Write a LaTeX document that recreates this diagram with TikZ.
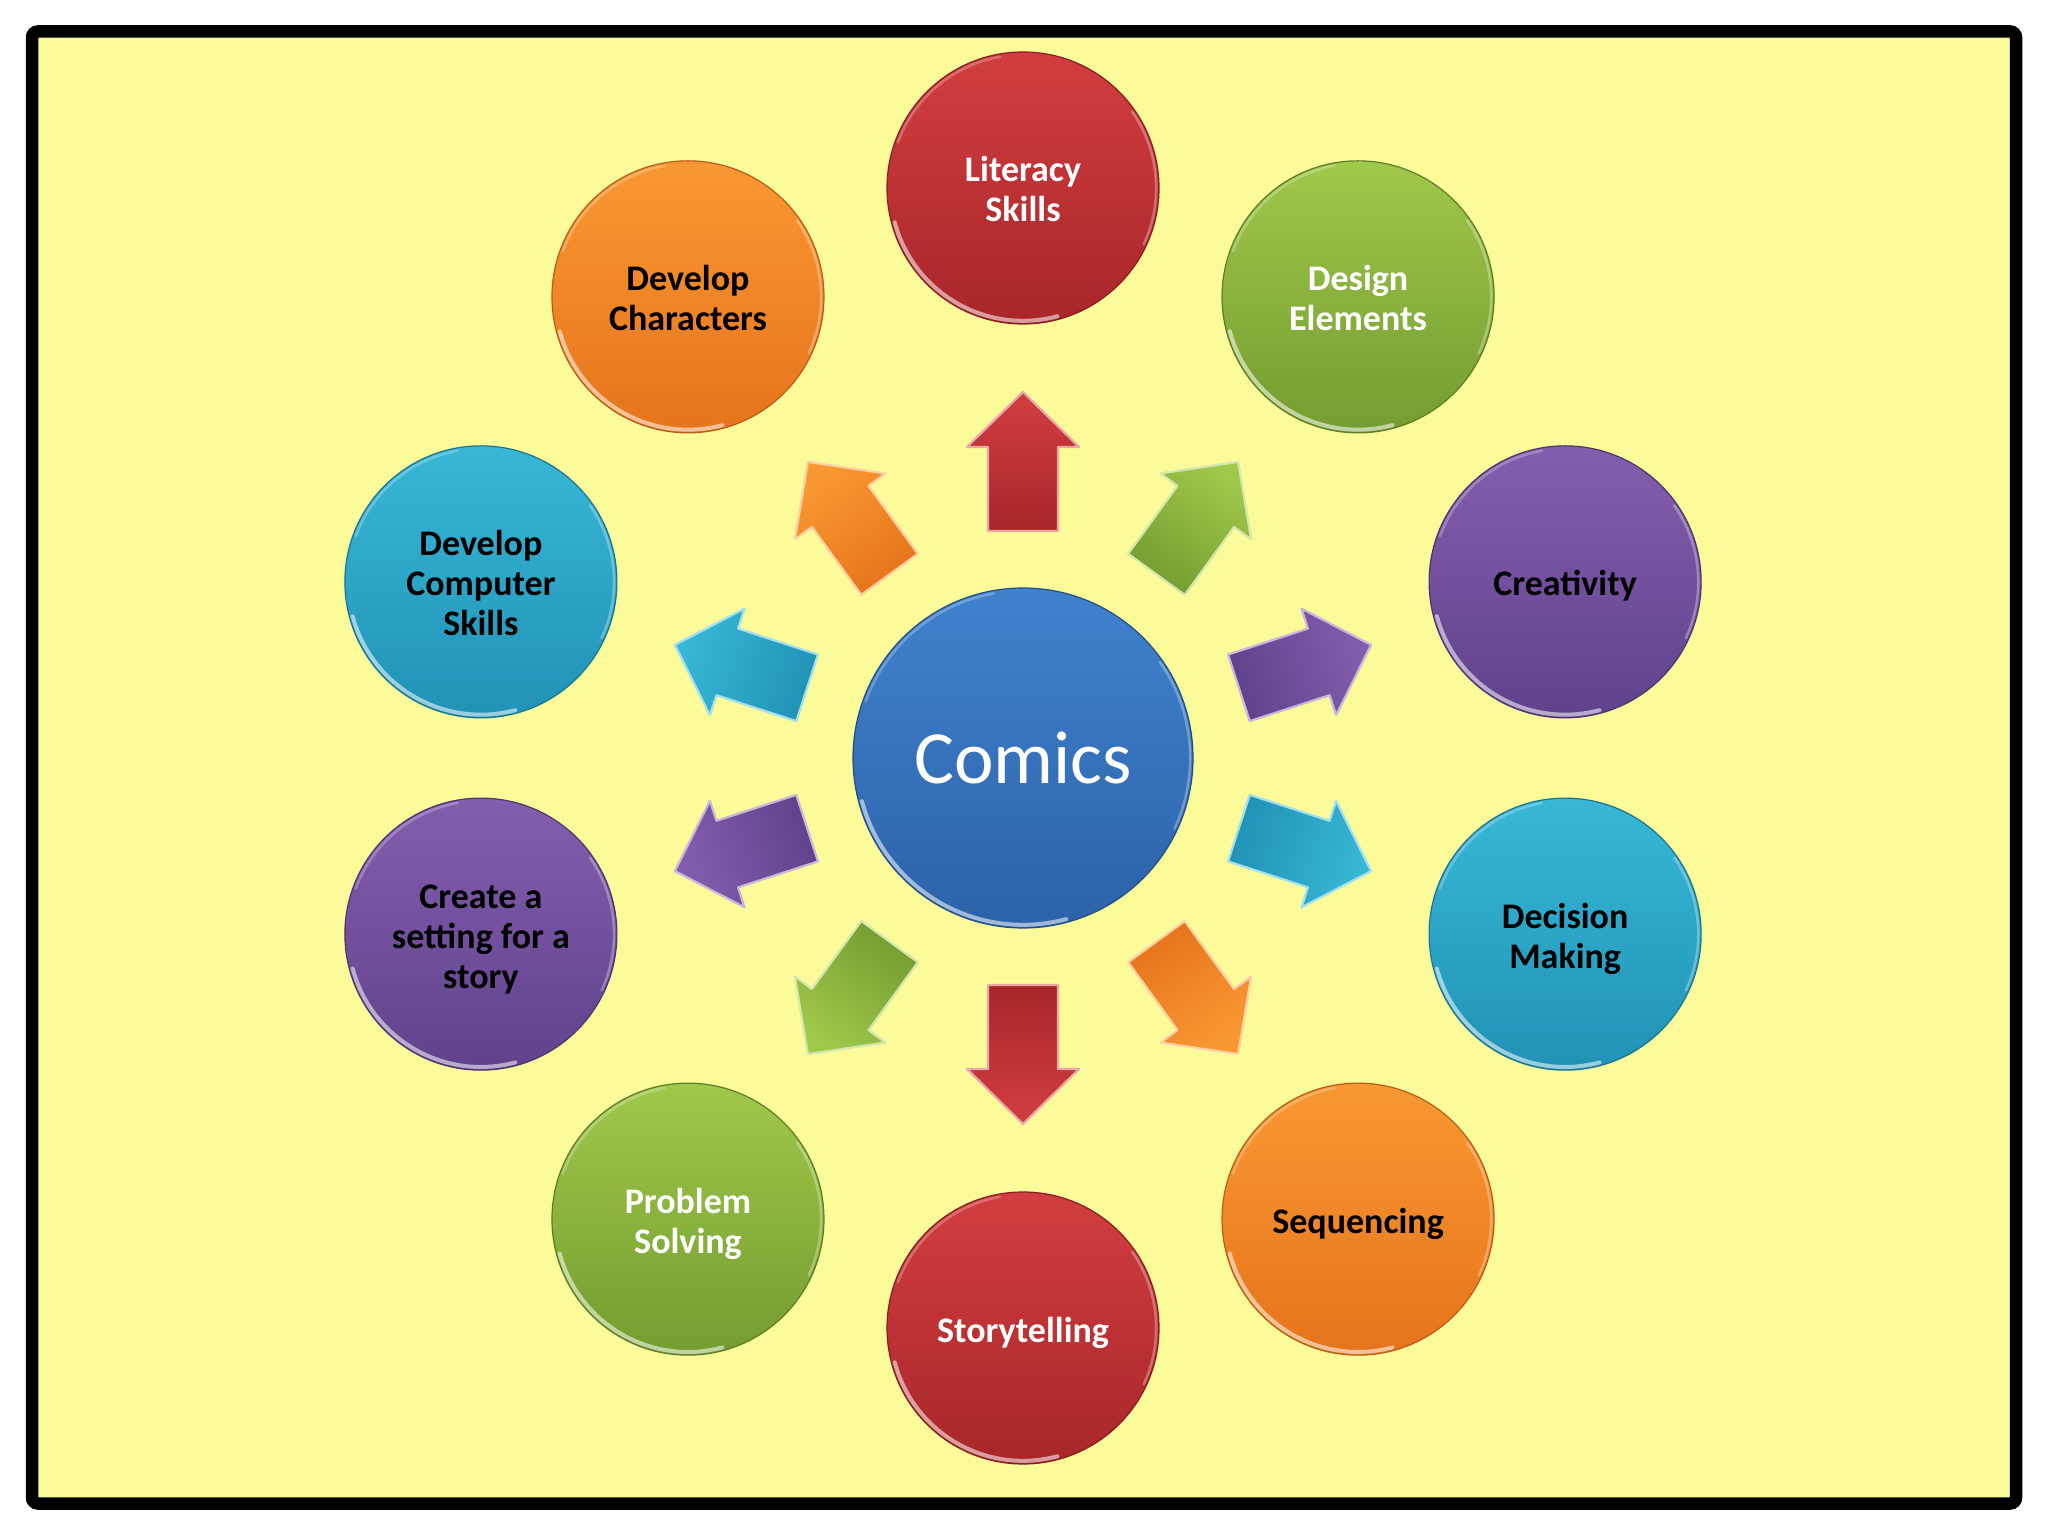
\documentclass[tikz,border=0pt]{standalone}
\usepackage{fontspec}
\setmainfont{Carlito}
\usetikzlibrary{calc}
\definecolor{bg}{RGB}{252,251,154}
\definecolor{redT}{RGB}{210,62,64}\definecolor{redB}{RGB}{168,38,42}
\definecolor{orgT}{RGB}{249,152,50}\definecolor{orgB}{RGB}{230,116,28}
\definecolor{grnT}{RGB}{160,200,74}\definecolor{grnB}{RGB}{116,156,48}
\definecolor{purT}{RGB}{132,94,174}\definecolor{purB}{RGB}{96,66,140}
\definecolor{cynT}{RGB}{56,184,214}\definecolor{cynB}{RGB}{32,146,182}
\definecolor{bluT}{RGB}{64,130,206}\definecolor{bluB}{RGB}{44,98,168}
\tikzset{
  ball/.style={circle, inner sep=0pt, minimum size=136pt,
    font=\fontsize{18}{20}\selectfont\bfseries},
  hub/.style={circle, inner sep=0pt, minimum size=170pt, align=center,
    font=\fontsize{37.5}{40}\selectfont, text=white},
  frame/.style={line width=6.25pt, rounded corners=3pt, fill=bg, draw=black},
  gloss/.style={white, line cap=round},
}
\newcommand\glossrim[2]{%
  \draw[gloss, opacity=.55, line width=2pt]
    ([shift={(195:#2-1.6pt)}]#1.center) arc[start angle=195, end angle=285, radius=#2-1.6pt];
  \draw[gloss, opacity=.30, line width=1.3pt]
    ([shift={(-25:#2-1.4pt)}]#1.center) arc[start angle=-25, end angle=35, radius=#2-1.4pt];
  \draw[gloss, opacity=.25, line width=1.3pt]
    ([shift={(100:#2-1.4pt)}]#1.center) arc[start angle=100, end angle=160, radius=#2-1.4pt];
}
\newcommand\balltext[1]{\raisebox{0pt}[\dimexpr\height+6pt\relax][\depth]{\begin{tabular}{@{}c@{}}#1\end{tabular}}}
\begin{document}
\begin{tikzpicture}[x=0.5pt,y=0.5pt]
\useasboundingbox (0,0) rectangle (2048,1536);
\fill[white] (0,0) rectangle (2048,1536);
\draw[frame] (32,1504.5) rectangle (2016,32.5);

% central hub
\node[hub, top color=bluT, bottom color=bluB, draw=bluB!80!black, line width=0.6pt]
  (comics) at (1023,778) {Comics};
\glossrim{comics}{85pt}

% arrows
\foreach \ang/\col in {90/red,54/grn,18/pur,-18/cyn,-54/org,-90/red,-126/grn,-162/pur,162/cyn,126/org}{
  \pgfmathsetmacro\sa{\ang-90}
  \begin{scope}[shift={(comics.center)}, rotate=\ang]
    \shade[top color=\col T, bottom color=\col B, shading angle=\sa,
           draw=\col T!45!white, line width=1.1pt, line join=round]
      (227,-35) -- (311,-35) -- (311,-56) -- (366,0) -- (311,56) -- (311,35) -- (227,35) -- cycle;
  \end{scope}
}

% outer balls
\foreach \ang/\nm/\col/\tc/\txt in {
  90/lit/red/white/{Literacy\\Skills},
  54/des/grn/white/{Design\\Elements},
  18/cre/pur/black/{Creativity},
  -18/dec/cyn/black/{Decision\\Making},
  -54/seq/org/black/{Sequencing},
  -90/sto/red/white/{Storytelling},
  -126/pro/grn/white/{Problem\\Solving},
  -162/set/pur/black/{Create a\\setting for a\\story},
  162/com/cyn/black/{Develop\\Computer\\Skills},
  126/cha/org/black/{Develop\\Characters}}{
  \node[ball, top color=\col T, bottom color=\col B, draw=\col B!80!black,
        line width=0.6pt, text=\tc] (\nm) at ($(comics.center)+(\ang:570)$) {\balltext{\txt}};
  \glossrim{\nm}{68pt}
}
\end{tikzpicture}
\end{document}
